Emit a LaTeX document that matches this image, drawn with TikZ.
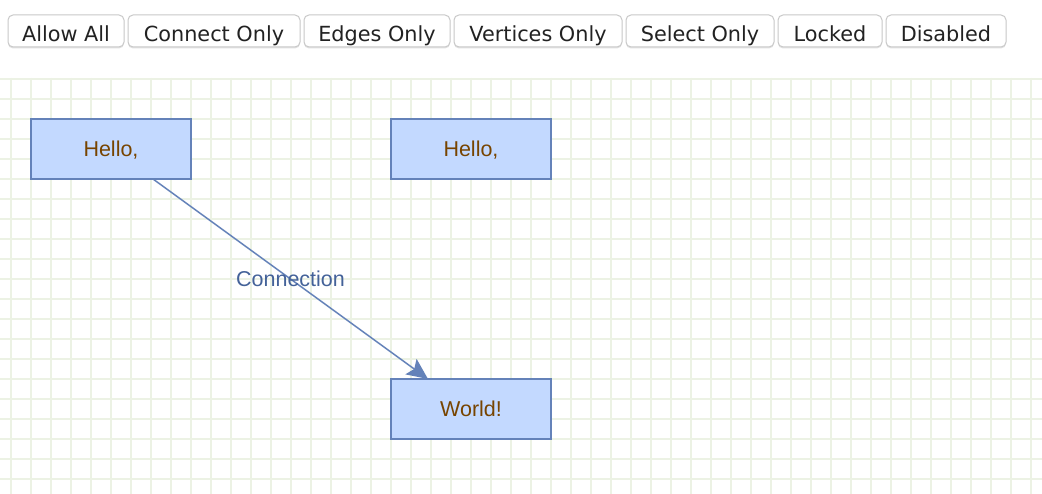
\documentclass[tikz,border=0pt]{standalone}
\usepackage{fontspec}
\setmainfont{Liberation Sans}
\newfontfamily\btnfont{DejaVu Sans}
\usetikzlibrary{arrows.meta,calc}
\definecolor{gridc}{HTML}{ECF2E4}
\definecolor{vfill}{HTML}{C3D9FF}
\definecolor{vstroke}{HTML}{6482B9}
\definecolor{vfont}{HTML}{774400}
\definecolor{efont}{HTML}{446299}
\definecolor{btnborder}{HTML}{C9C9C9}
\definecolor{btnshadow}{HTML}{E2E2E2}
\definecolor{btntext}{HTML}{222222}
\tikzset{
  gridline/.style={draw=gridc, line width=1.8pt},
  vertex/.style={draw=vstroke, fill=vfill, line width=1.5pt, minimum width=160pt, minimum height=60pt, inner sep=0pt, outer sep=0pt, text=vfont, font=\fontsize{21.5}{24}\selectfont, text height=15.4pt, text depth=0pt},
  edgeline/.style={draw=vstroke, line width=1.5pt, -{Stealth[length=21pt,width=19pt,inset=4pt]}},
  edgelabel/.style={text=efont, font=\fontsize{21.5}{24}\selectfont, inner sep=0pt, text height=15.4pt, text depth=0pt},
  btn/.style={draw=btnborder, fill=white, rounded corners=5pt, line width=1pt},
  btnshadowst/.style={fill=btnshadow, rounded corners=5pt},
  btnlabel/.style={text=btntext, font=\btnfont\fontsize{20.8}{24}\selectfont, inner sep=0pt, anchor=base}
}
\begin{document}
\begin{tikzpicture}[x=1pt,y=-1pt]
\useasboundingbox (0,0) rectangle (1042,494);
\fill[white] (0,0) rectangle (1042,494);
% grid
\foreach \k in {0,...,51} { \draw[gridline] ({11+20*\k},78) -- ({11+20*\k},494); }
\foreach \k in {0,...,20} { \draw[gridline] (0,{79+20*\k}) -- (1042,{79+20*\k}); }
% buttons
\foreach \l/\r/\t/\n in {8/124/Allow All/b1, 128/300/Connect Only/b2, 304/450/Edges Only/b3, 454/622/Vertices Only/b4, 626/774/Select Only/b5, 778/882/Locked/b6, 886/1006/Disabled/b7} {
  \fill[btnshadowst] (\l,16.5) rectangle (\r,48.5);
  \draw[btn] (\l,15) rectangle (\r,47);
  \node[btnlabel] (\n) at ({(\l+\r)/2},41.5) {\t};
}
% vertices
\node[vertex] (A) at (111,149) {Hello,};
\node[vertex] (B) at (471,149) {Hello,};
\node[vertex] (C) at (471,409) {World!};
% edge
\draw[edgeline] ($(A.south west)!0.7625!(A.south east)$) -- node[edgelabel, pos=0.5] (L) {Connection} ($(C.north west)!0.23125!(C.north east)$);
\end{tikzpicture}
\end{document}
